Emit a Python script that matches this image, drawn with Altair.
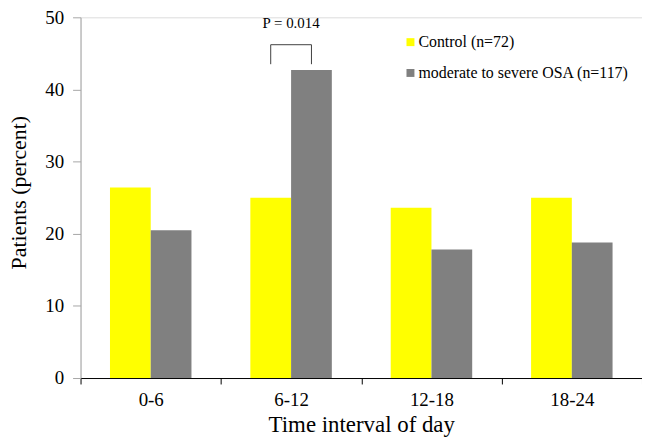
import altair as alt
import pandas as pd

categories = ["0-6", "6-12", "12-18", "18-24"]
series = ["Control (n=72)", "moderate to severe OSA (n=117)"]
control = [26.4, 25.0, 23.6, 25.0]
osa = [20.5, 42.7, 17.8, 18.8]
colors = ["#FFFF00", "#808080"]

bracket_cat = "6-12"
bracket_low = 43.5
bracket_high = 46.2
p_label = "P = 0.014"
p_y = 49.2

rows = []
for i, c in enumerate(categories):
    rows.append({"cat": c, "series": series[0], "value": control[i]})
    rows.append({"cat": c, "series": series[1], "value": osa[i]})
df = pd.DataFrame(rows)

bracket = pd.DataFrame([
    {"cat": bracket_cat, "series": series[0], "y": bracket_low, "o": 0},
    {"cat": bracket_cat, "series": series[0], "y": bracket_high, "o": 1},
    {"cat": bracket_cat, "series": series[1], "y": bracket_high, "o": 2},
    {"cat": bracket_cat, "series": series[1], "y": bracket_low, "o": 3},
])
ptext = pd.DataFrame([{"cat": bracket_cat, "y": p_y, "t": p_label}])

FONT = "Liberation Serif, Times New Roman, serif"

xscale = alt.Scale(domain=categories, paddingInner=0, paddingOuter=0)
xoff_scale = alt.Scale(domain=series, paddingInner=0, paddingOuter=0.7226)
yscale = alt.Scale(domain=[0, 50], nice=False)

x_axis = alt.Axis(
    title="Time interval of day", tickBand="extent", labelAngle=0,
    labelFont=FONT, labelFontSize=19, labelColor="black", labelPadding=7,
    titleFont=FONT, titleFontSize=23, titleFontWeight="normal", titleColor="black",
    titlePadding=4, domainColor="black", tickColor="black", tickSize=6,
    grid=False,
)
y_axis = alt.Axis(
    title="Patients (percent)", values=[0, 10, 20, 30, 40, 50],
    labelFont=FONT, labelFontSize=19, labelColor="black", labelPadding=9,
    titleFont=FONT, titleFontSize=22, titleFontWeight="normal", titleColor="black",
    titleX=-62, titleY=176, titleBaseline="middle", titleAnchor="middle",
    domainColor="#A6A6A6", tickColor="#A6A6A6", tickSize=8, grid=False,
)

bars = alt.Chart(df).mark_bar().encode(
    x=alt.X("cat:N", scale=xscale, axis=x_axis, sort=categories),
    xOffset=alt.XOffset("series:N", scale=xoff_scale, sort=series),
    y=alt.Y("value:Q", scale=yscale, axis=y_axis),
    color=alt.Color(
        "series:N", scale=alt.Scale(domain=series, range=colors), sort=series,
        legend=alt.Legend(
            title=None, orient="none", legendX=324, legendY=17,
            symbolType="square", symbolSize=64, symbolStrokeWidth=0,
            labelFont=FONT, labelFontSize=16, labelColor="black", labelLimit=0,
            rowPadding=15, labelOffset=0, symbolOffset=0,
        ),
    ),
)

br = alt.Chart(bracket).mark_line(color="#404040", strokeWidth=1).encode(
    x=alt.X("cat:N", scale=xscale, axis=x_axis, sort=categories),
    xOffset=alt.XOffset("series:N", scale=xoff_scale, sort=series),
    y=alt.Y("y:Q", scale=yscale, axis=y_axis),
    order="o:Q",
)

pt = alt.Chart(ptext).mark_text(font=FONT, fontSize=15, color="black", baseline="middle").encode(
    x=alt.X("cat:N", scale=xscale, axis=x_axis, sort=categories),
    y=alt.Y("y:Q", scale=yscale, axis=y_axis),
    text="t:N",
)

chart = alt.layer(bars, br, pt).properties(
    width=565, height=363,
    autosize=alt.AutoSizeParams(type="none"),
    padding={"left": 73, "top": 8, "right": 0, "bottom": 60},
).configure_view(stroke=None).configure(background="white").configure_axis(
    labelFont=FONT, titleFont=FONT
).configure_legend(labelFont=FONT).configure_text(font=FONT)

chart.save("out.html", embed_options={"renderer": "svg", "actions": False})
